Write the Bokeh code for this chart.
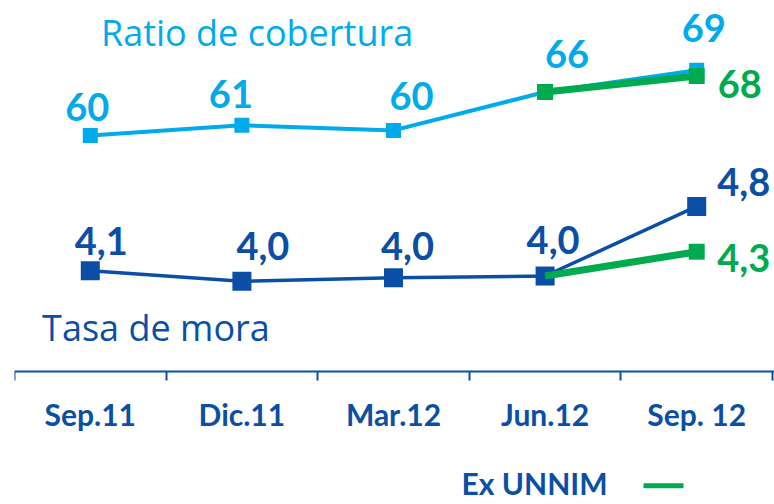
from bokeh.plotting import figure
from bokeh.models import (Range1d, LinearAxis, FixedTicker, Label, Arrow)
from bokeh.core.properties import value
from bokeh.embed import file_html
from bokeh.resources import INLINE

# ---------------- data ----------------
categories = ["Sep.11", "Dic.11", "Mar.12", "Jun.12", "Sep. 12"]

cobertura = [60.0, 61.4, 60.7, 66.0, 69.0]
cobertura_labels = ["60", "61", "60", "66", "69"]

mora = [4.06, 3.94, 3.98, 4.00, 4.80]
mora_labels = ["4,1", "4,0", "4,0", "4,0", "4,8"]

# Ex UNNIM (Jun.12 -> Sep.12)
exunnim_cats = ["Jun.12", "Sep. 12"]
exunnim_cobertura = [66.0, 68.2]
exunnim_cobertura_labels = ["", "68"]
exunnim_mora = [4.00, 4.28]
exunnim_mora_labels = ["", "4,3"]

# ---------------- styling ----------------
LIGHT = "#00AAEB"
DARK = "#0A4FA5"
GREEN = "#00AA4F"
FONT = "Lato"
TITLE_FONT = "Open Sans"

xpos = {c: i + 0.5 for i, c in enumerate(categories)}
x_main = [xpos[c] for c in categories]
x_ex = [xpos[c] for c in exunnim_cats]

AXIS_Y = 2.902   # y (mora units) where the category axis sits

p = figure(width=774, height=504, output_backend="svg", toolbar_location=None,
           x_axis_type=None, y_axis_type=None,
           x_range=Range1d(0, 760 / 151.6), y_range=Range1d(1.374, 7.167),
           min_border_left=14, min_border_right=0, min_border_top=0,
           min_border_bottom=0, background_fill_color="white",
           border_fill_color="white")
p.extra_y_ranges = {"cob": Range1d(9.103, 78.62)}
p.outline_line_color = None
p.xgrid.visible = False
p.ygrid.visible = False

# x axis: labels at category centres, tick marks at the boundaries
ax = LinearAxis(ticker=FixedTicker(ticks=x_main,
                                   minor_ticks=list(range(len(categories) + 1))),
                fixed_location=AXIS_Y)
ax.major_label_overrides = {xpos[c]: c for c in categories}
ax.major_tick_out = 0
ax.major_tick_in = 0
ax.minor_tick_out = 9
ax.minor_tick_in = 0
ax.minor_tick_line_color = DARK
ax.minor_tick_line_width = 2
ax.axis_line_color = DARK
ax.axis_line_width = 2
ax.major_label_text_font = FONT
ax.major_label_text_font_style = "bold"
ax.major_label_text_font_size = "30px"
ax.major_label_text_color = DARK
ax.major_label_standoff = 15
p.add_layout(ax, "below")

# ---- Ratio de cobertura ----
p.line(x_main, cobertura, y_range_name="cob", line_color=LIGHT, line_width=4)
p.scatter(x_main, cobertura, y_range_name="cob", marker="square", size=15,
          fill_color=LIGHT, line_color=None)
p.line(x_ex, exunnim_cobertura, y_range_name="cob", line_color=GREEN, line_width=7)
p.scatter(x_ex, exunnim_cobertura, y_range_name="cob", marker="square", size=16,
          fill_color=GREEN, line_color=None)

# ---- Tasa de mora ----
p.line(x_main, mora, line_color=DARK, line_width=3.5)
p.scatter(x_main, mora, marker="square", size=19, fill_color=DARK, line_color=None)
p.line(x_ex, exunnim_mora, line_color=GREEN, line_width=7)
p.scatter(x_ex[1:], exunnim_mora[1:], marker="square", size=16,
          fill_color=GREEN, line_color=None)

# ---- value labels ----
num_kw = dict(text_font=value(FONT), text_font_style="bold",
              text_font_size="38px", text_align="center",
              text_baseline="alphabetic")
p.text(x_main, cobertura, text=cobertura_labels, y_range_name="cob",
       x_offset=[-3, -11, 18, 22, 7], y_offset=[-28, -31, -34, -38, -42],
       text_color=LIGHT, **num_kw)
p.text(x_ex, exunnim_cobertura, text=exunnim_cobertura_labels, y_range_name="cob",
       x_offset=[0, 43], y_offset=[0, 8], text_color=GREEN, **num_kw)
p.text(x_main, mora, text=mora_labels,
       x_offset=[11, 21, 14, 8, 47], y_offset=[-30, -35, -32, -36, -24],
       text_color=DARK, **num_kw)
p.text(x_ex, exunnim_mora, text=exunnim_mora_labels,
       x_offset=[0, 47], y_offset=[0, 6], text_color=GREEN, **num_kw)

# ---- series titles ----
p.add_layout(Label(x=1.600, y=74.14, y_range_name="cob", text="Ratio de cobertura",
                   text_align="center", text_baseline="alphabetic",
                   text_font=TITLE_FONT, text_font_size="36px", text_color=LIGHT))
p.add_layout(Label(x=0.933, y=3.414, text="Tasa de mora",
                   text_align="center", text_baseline="alphabetic",
                   text_font=TITLE_FONT, text_font_size="36px", text_color=DARK))

# ---- legend: Ex UNNIM ----
p.add_layout(Label(x=3.912, y=1.62, text="Ex UNNIM", text_align="right",
                   text_baseline="alphabetic", text_font=FONT,
                   text_font_style="bold", text_font_size="30px", text_color=DARK))
p.add_layout(Arrow(end=None, x_start=4.149, x_end=4.413, y_start=1.59, y_end=1.59,
                   line_color=GREEN, line_width=5))

open("out.html", "w").write(file_html(p, INLINE))
